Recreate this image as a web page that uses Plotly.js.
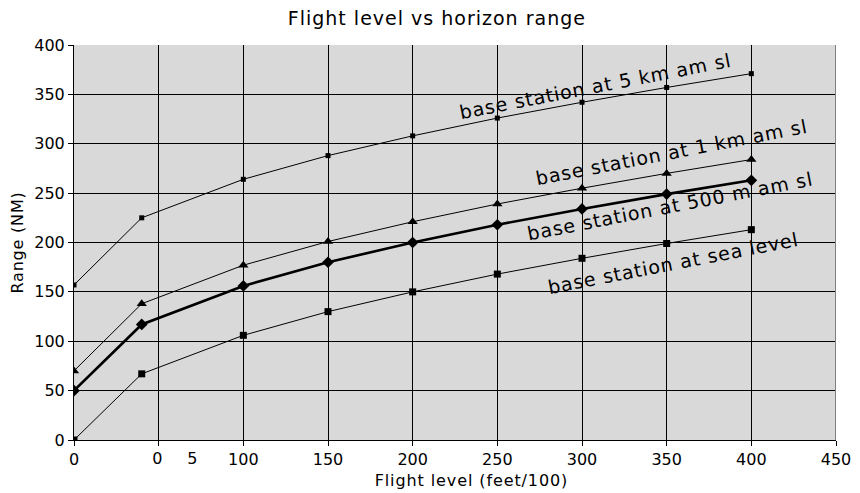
<!DOCTYPE html>
<html>
<head>
<meta charset="utf-8">
<script src="https://cdn.plot.ly/plotly-3.0.1.min.js"></script>
<style>
html,body{margin:0;padding:0;background:#fff;}
#chart{width:860px;height:493px;}
#chart .gtitle{letter-spacing:1px;}
#chart .annotation-text{letter-spacing:0.9px;}
#chart .annotation.xtitle-ann .annotation-text, #chart .ytitle{letter-spacing:0.8px;}
</style>
</head>
<body>
<div id="chart"></div>
<script>
// Data
const flightLevels = [0, 40, 100, 150, 200, 250, 300, 350, 400];
const seaLevel   = [0, 67, 106, 130, 150, 168, 184, 199, 213];
const base500m   = [50, 117, 156, 180, 200, 218, 234, 249, 263];
const base1km    = [70, 138, 177, 201, 221, 239, 255, 270, 284];
const base5km    = [157, 225, 264, 288, 308, 326, 342, 357, 371];
const xTickVals  = [0, 50, 100, 150, 200, 250, 300, 350, 400, 450];
const xTickText  = ["0", "", "100", "150", "200", "250", "300", "350", "400", "450"];
const oddTickLabel = "0\u00a0\u00a0\u00a0\u00a05";
const seriesLabels = ["base station at 5 km am sl", "base station at 1 km am sl", "base station at 500 m am sl", "base station at sea level"];

const FONT = "DejaVu Sans, sans-serif";

const traces = [
  {x: flightLevels, y: seaLevel, mode: "lines+markers", line: {color: "#000", width: 1},
   marker: {symbol: "square", size: 7, color: "#000"}, name: seriesLabels[3]},
  {x: flightLevels, y: base500m, mode: "lines+markers", line: {color: "#000", width: 2.6},
   marker: {symbol: "diamond", size: 9, color: "#000"}, name: seriesLabels[2]},
  {x: flightLevels, y: base1km, mode: "lines+markers", line: {color: "#000", width: 1},
   marker: {symbol: "triangle-up", size: 9, color: "#000"}, name: seriesLabels[1]},
  {x: flightLevels, y: base5km, mode: "lines+markers", line: {color: "#000", width: 1},
   marker: {symbol: "square", size: 5, color: "#000"}, name: seriesLabels[0]}
];

const labelFont = {family: FONT, size: 19, color: "#000"};
const layout = {
  width: 860, height: 493,
  margin: {l: 74, r: 24, t: 45, b: 53},
  paper_bgcolor: "#ffffff",
  plot_bgcolor: "#d9d9d9",
  showlegend: false,
  title: {text: "Flight level vs horizon range", font: {family: FONT, size: 19, color: "#000"},
          x: 0.508, xanchor: "center", y: 0.962, yanchor: "middle"},
  font: {family: FONT, color: "#000"},
  xaxis: {
    range: [0, 450], tickmode: "array", tickvals: xTickVals, ticktext: xTickText,
    showgrid: true, gridcolor: "#000", gridwidth: 1, zeroline: false,
    showline: true, linecolor: "#000", linewidth: 1,
    ticks: "outside", ticklen: 5, tickcolor: "#000",
    tickfont: {family: FONT, size: 16, color: "#000"},
    automargin: false
  },
  yaxis: {
    range: [0, 400], dtick: 50,
    showgrid: true, gridcolor: "#000", gridwidth: 1, zeroline: false,
    showline: true, linecolor: "#000", linewidth: 1,
    ticks: "outside", ticklen: 5, tickcolor: "#000",
    tickfont: {family: FONT, size: 16, color: "#000"},
    title: {text: "Range (NM)", font: {family: FONT, size: 16, color: "#000"}, standoff: 6},
    automargin: false
  },
  shapes: [
    {type: "line", xref: "x", yref: "y", x0: 450, x1: 450, y0: 0, y1: 400, line: {color: "#808080", width: 2}}
  ],
  annotations: [
    {xref: "x", yref: "paper", x: 50, y: 0, xanchor: "left", yanchor: "top", xshift: -6, yshift: -7,
     text: oddTickLabel, showarrow: false, font: {family: FONT, size: 16, color: "#000"}},
    {xref: "paper", yref: "paper", x: (471 - 74) / 762, y: 0, xanchor: "center", yanchor: "middle", yshift: -40,
     text: "Flight level (feet/100)", showarrow: false, font: {family: FONT, size: 16, color: "#000"}},
    {xref: "x", yref: "y", x: 308, y: 358, text: seriesLabels[0], textangle: -11, showarrow: false, font: labelFont},
    {xref: "x", yref: "y", x: 353, y: 292, text: seriesLabels[1], textangle: -11, showarrow: false, font: labelFont},
    {xref: "x", yref: "y", x: 352, y: 237, text: seriesLabels[2], textangle: -11, showarrow: false, font: labelFont},
    {xref: "x", yref: "y", x: 354, y: 179, text: seriesLabels[3], textangle: -11, showarrow: false, font: labelFont}
  ]
};

Plotly.newPlot("chart", traces, layout, {displayModeBar: false, staticPlot: true});
</script>
</body>
</html>
